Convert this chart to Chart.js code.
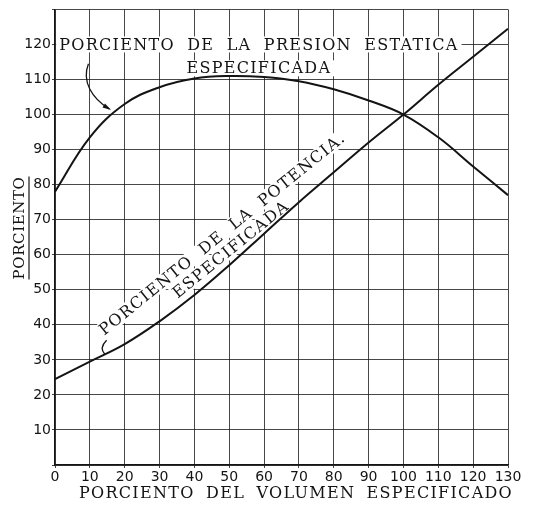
<!DOCTYPE html>
<html>
<head>
<meta charset="utf-8">
<script src="https://cdn.jsdelivr.net/npm/chart.js@4.4.1/dist/chart.umd.min.js"></script>
<style>
  html, body { margin: 0; padding: 0; background: #fff; }
  #chart { display: block; }
</style>
</head>
<body>
<canvas id="chart" width="545" height="506"></canvas>
<script>
// porciento del volumen especificado (x)
const volumen = [0, 10, 20, 30, 40, 50, 60, 70, 80, 90, 100, 110, 120, 130];
// porciento de la presion estatica especificada
const presion = [78, 93.5, 103, 107.8, 110.3, 111, 110.7, 109.5, 107.2, 104, 100, 93.5, 85.2, 77];
// porciento de la potencia especificada
const potencia = [24.5, 29.5, 34.5, 41, 48.5, 57, 66, 75, 83.5, 92, 100, 108.5, 116.5, 124.5];

const yTickLabels = [10, 20, 30, 40, 50, 60, 70, 80, 90, 100, 110, 120];

const serif = '16px "DejaVu Serif"';
const ink = '#141414';

function boxText(ctx, text, cx, cy) {
  ctx.font = serif;
  ctx.letterSpacing = '1.3px';
  ctx.wordSpacing = '6px';
  const w = ctx.measureText(text).width;
  ctx.fillStyle = '#fff';
  ctx.fillRect(cx - w / 2 - 3, cy - 8, w + 6, 16);
  ctx.fillStyle = ink;
  ctx.textAlign = 'center';
  ctx.textBaseline = 'middle';
  ctx.fillText(text, cx, cy + 1);
}

const notes = {
  id: 'notes',
  beforeDatasetsDraw(chart) {
    const { ctx, scales: { x, y } } = chart;
    ctx.save();
    // etiqueta de la presion
    boxText(ctx, 'PORCIENTO DE LA PRESION ESTATICA', x.getPixelForValue(58.5), y.getPixelForValue(120));
    boxText(ctx, 'ESPECIFICADA', x.getPixelForValue(58.5), y.getPixelForValue(113.2));

    // etiqueta de la potencia, a lo largo de la curva
    ctx.save();
    ctx.translate(x.getPixelForValue(53), y.getPixelForValue(59.8));
    ctx.rotate(-39 * Math.PI / 180);
    boxText(ctx, 'PORCIENTO DE LA POTENCIA.', 0, -28);
    boxText(ctx, 'ESPECIFICADA', -3, -10.5);
    ctx.restore();
    ctx.restore();
  },
  afterDatasetsDraw(chart) {
    const { ctx, scales: { x, y } } = chart;
    const px = v => x.getPixelForValue(v), py = v => y.getPixelForValue(v);
    ctx.save();
    ctx.strokeStyle = ink;
    ctx.fillStyle = ink;
    ctx.lineWidth = 1.3;

    // flecha hacia la curva de presion
    const ex = px(15.6), ey = py(101.6);
    const c2x = px(10.6), c2y = py(104.6);
    ctx.beginPath();
    ctx.moveTo(px(9.6), py(114.5));
    ctx.bezierCurveTo(px(7.6), py(109.5), c2x, c2y, ex, ey);
    ctx.stroke();
    const a = Math.atan2(ey - c2y, ex - c2x);
    ctx.beginPath();
    ctx.moveTo(ex + 2 * Math.cos(a), ey + 2 * Math.sin(a));
    ctx.lineTo(ex - 7 * Math.cos(a - 0.35), ey - 7 * Math.sin(a - 0.35));
    ctx.lineTo(ex - 7 * Math.cos(a + 0.35), ey - 7 * Math.sin(a + 0.35));
    ctx.closePath();
    ctx.fill();

    // pequeña guia hacia la curva de potencia
    ctx.beginPath();
    ctx.moveTo(px(14.8), py(35.6));
    ctx.quadraticCurveTo(px(12.6), py(33.4), px(14.3), py(31.6));
    ctx.stroke();

    // titulo del eje y, subrayado
    ctx.translate(19, 228);
    ctx.rotate(-Math.PI / 2);
    ctx.font = '15px "DejaVu Serif"';
    ctx.letterSpacing = '0.6px';
    ctx.textAlign = 'center';
    ctx.textBaseline = 'middle';
    ctx.fillText('PORCIENTO', 0, 1);
    const w = ctx.measureText('PORCIENTO').width;
    ctx.lineWidth = 1.2;
    ctx.beginPath();
    ctx.moveTo(-w / 2, 10);
    ctx.lineTo(w / 2, 10);
    ctx.stroke();
    ctx.restore();

    // titulo del eje x
    ctx.save();
    ctx.font = serif;
    ctx.letterSpacing = '1.3px';
    ctx.wordSpacing = '5px';
    ctx.fillStyle = ink;
    ctx.textAlign = 'center';
    ctx.textBaseline = 'middle';
    ctx.fillText('PORCIENTO DEL VOLUMEN ESPECIFICADO', 296, 494);
    ctx.restore();
  }
};

const gridStyle = {
  color: 'rgba(20,20,20,0.78)',
  lineWidth: 1,
  tickLength: 3
};

const tickFont = { family: '"DejaVu Sans"', size: 14 };

new Chart(document.getElementById('chart'), {
  type: 'line',
  data: {
    datasets: [{
      label: 'Presion estatica',
      data: volumen.map((v, i) => ({ x: v, y: presion[i] })),
      borderColor: ink,
      borderWidth: 2,
      pointRadius: 0,
      tension: 0.4
    }, {
      label: 'Potencia',
      data: volumen.map((v, i) => ({ x: v, y: potencia[i] })),
      borderColor: ink,
      borderWidth: 2,
      pointRadius: 0,
      tension: 0.4
    }]
  },
  options: {
    responsive: false,
    animation: false,
    layout: { padding: { top: 9, right: 37, left: 0, bottom: 0 } },
    plugins: {
      legend: { display: false },
      tooltip: { enabled: false }
    },
    scales: {
      x: {
        type: 'linear',
        min: 0,
        max: 130,
        grid: gridStyle,
        border: { color: ink, width: 1.4 },
        ticks: {
          stepSize: 10,
          autoSkip: false,
          maxRotation: 0,
          padding: 1,
          color: ink,
          font: tickFont
        },
        afterFit: s => { s.height = 41; }
      },
      y: {
        min: 0,
        max: 130,
        grid: gridStyle,
        border: { color: ink, width: 1.4 },
        ticks: {
          stepSize: 10,
          autoSkip: false,
          padding: 1,
          color: ink,
          font: tickFont,
          callback: v => yTickLabels.includes(v) ? v : ''
        },
        afterFit: s => { s.width = 55; }
      }
    }
  },
  plugins: [notes]
});
</script>
</body>
</html>
